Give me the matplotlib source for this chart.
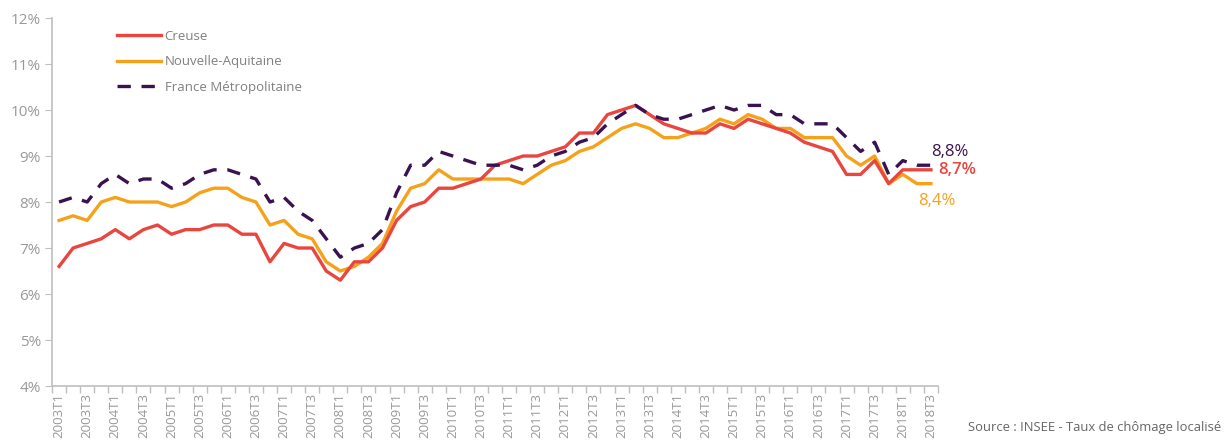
import numpy as np
import matplotlib.pyplot as plt
from matplotlib.ticker import FixedLocator, FuncFormatter

# trimestres 2003T1 .. 2018T3
trimestres = [f"{a}T{t}" for a in range(2003, 2019) for t in range(1, 5)][:63]

creuse = [6.6, 7.0, 7.1, 7.2, 7.4, 7.2, 7.4, 7.5, 7.3, 7.4, 7.4, 7.5, 7.5, 7.3, 7.3, 6.7,
          7.1, 7.0, 7.0, 6.5, 6.3, 6.7, 6.7, 7.0, 7.6, 7.9, 8.0, 8.3, 8.3, 8.4, 8.5, 8.8,
          8.9, 9.0, 9.0, 9.1, 9.2, 9.5, 9.5, 9.9, 10.0, 10.1, 9.9, 9.7, 9.6, 9.5, 9.5, 9.7,
          9.6, 9.8, 9.7, 9.6, 9.5, 9.3, 9.2, 9.1, 8.6, 8.6, 8.9, 8.4, 8.7, 8.7, 8.7]

nouvelle_aquitaine = [7.6, 7.7, 7.6, 8.0, 8.1, 8.0, 8.0, 8.0, 7.9, 8.0, 8.2, 8.3, 8.3, 8.1, 8.0, 7.5,
                      7.6, 7.3, 7.2, 6.7, 6.5, 6.6, 6.8, 7.1, 7.8, 8.3, 8.4, 8.7, 8.5, 8.5, 8.5, 8.5,
                      8.5, 8.4, 8.6, 8.8, 8.9, 9.1, 9.2, 9.4, 9.6, 9.7, 9.6, 9.4, 9.4, 9.5, 9.6, 9.8,
                      9.7, 9.9, 9.8, 9.6, 9.6, 9.4, 9.4, 9.4, 9.0, 8.8, 9.0, 8.4, 8.6, 8.4, 8.4]

france_metro = [8.0, 8.1, 8.0, 8.4, 8.6, 8.4, 8.5, 8.5, 8.3, 8.4, 8.6, 8.7, 8.7, 8.6, 8.5, 8.0,
                8.1, 7.8, 7.6, 7.2, 6.8, 7.0, 7.1, 7.4, 8.2, 8.8, 8.8, 9.1, 9.0, 8.9, 8.8, 8.8,
                8.8, 8.7, 8.8, 9.0, 9.1, 9.3, 9.4, 9.7, 9.9, 10.1, 9.9, 9.8, 9.8, 9.9, 10.0, 10.1,
                10.0, 10.1, 10.1, 9.9, 9.9, 9.7, 9.7, 9.7, 9.4, 9.1, 9.3, 8.6, 8.9, 8.8, 8.8]

rouge = "#E8463F"
orange = "#F5A21A"
violet = "#3A1250"

plt.rcParams['font.family'] = ['Open Sans', 'DejaVu Sans']

fig = plt.figure(figsize=(12.24, 4.46), dpi=100)
ax = fig.add_axes([0.0425, 0.1345, 0.7238, 0.8251])

x = np.arange(len(trimestres))
ax.plot(x, creuse, color=rouge, lw=2.4, label="Creuse", zorder=3)
ax.plot(x, nouvelle_aquitaine, color=orange, lw=2.4, label="Nouvelle-Aquitaine", zorder=2)
ax.plot(x, france_metro, color=violet, lw=2.4, ls=(0, (4, 3.2)), label="France Métropolitaine", zorder=4)

ax.set_xlim(-0.5, len(trimestres) - 0.5)
ax.set_ylim(4, 12)

# ticks x : petits traits entre catégories, libellés un sur deux
ax.xaxis.set_minor_locator(FixedLocator(np.arange(-0.5, len(trimestres), 1)))
ax.set_xticks(x[::2])
ax.set_xticklabels(trimestres[::2], rotation=90, fontsize=9.5, color="#999999")
ax.tick_params(axis='x', which='major', length=0, pad=5)
ax.tick_params(axis='x', which='minor', length=5, color="#BFBFBF", width=1)

ax.set_yticks(range(4, 13))
ax.yaxis.set_major_formatter(FuncFormatter(lambda v, p: f"{int(v)}%"))
ax.tick_params(axis='y', length=5, color="#BFBFBF", labelsize=11, labelcolor="#999999", pad=3)

for s in ['top', 'right']:
    ax.spines[s].set_visible(False)
for s in ['left', 'bottom']:
    ax.spines[s].set_color("#BFBFBF")
    ax.spines[s].set_linewidth(1.2)

leg = ax.legend(loc='upper left', bbox_to_anchor=(0.06, 1.0), frameon=False,
                fontsize=9.5, handlelength=3.3, labelspacing=0.95, handletextpad=0.3)
for t in leg.get_texts():
    t.set_color("#808080")

# valeurs finales
n = len(trimestres) - 1
ax.annotate(f"{france_metro[n]:.1f}%".replace(".", ","), (n, france_metro[n]),
            xytext=(0, 13), textcoords='offset pixels', color=violet, fontsize=12,
            va='center', ha='left')
ax.annotate(f"{creuse[n]:.1f}%".replace(".", ","), (n, creuse[n]),
            xytext=(7, 0), textcoords='offset pixels', color=rouge, fontsize=12,
            va='center', ha='left', fontweight='semibold')
ax.annotate(f"{nouvelle_aquitaine[n]:.1f}%".replace(".", ","), (n, nouvelle_aquitaine[n]),
            xytext=(-13, -17), textcoords='offset pixels', color=orange, fontsize=12,
            va='center', ha='left')

fig.text(0.998, 0.042, "Source : INSEE - Taux de chômage localisé", ha='right', va='center',
         fontsize=9.4, color="#666666")

plt.savefig('out.png', dpi=100)
